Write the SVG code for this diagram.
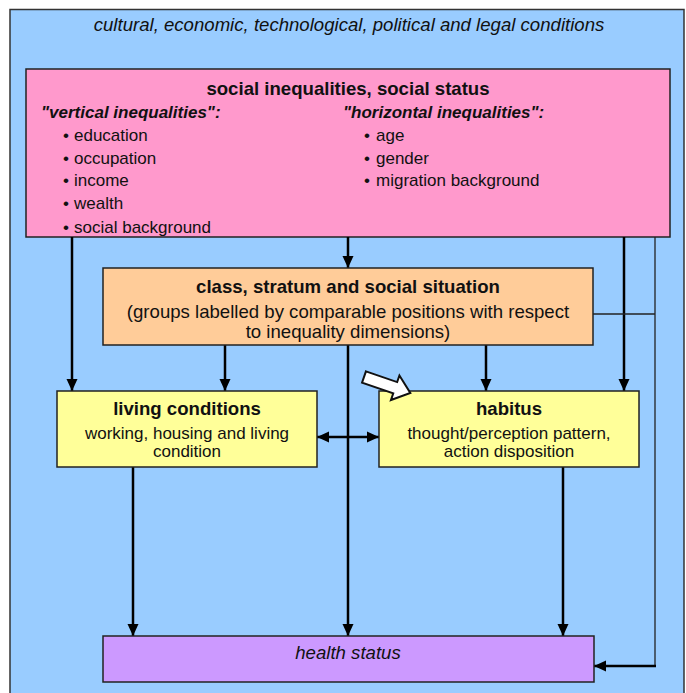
<svg xmlns="http://www.w3.org/2000/svg" width="686" height="693" viewBox="0 0 686 693">
<defs>
<style>
text{font-family:"Liberation Sans",Arial,sans-serif;fill:#111}
.t{font-size:18.6px;font-weight:bold;text-anchor:middle}
.s{font-size:17px;text-anchor:middle}
.sl{font-size:18.6px;text-anchor:middle}
.b{font-size:17px}
.h{font-size:17px;font-weight:bold;font-style:italic}
.box{stroke:#222;stroke-width:1.5}
.c{fill:none;stroke:#000;stroke-width:2.5}
.thin{fill:none;stroke:#222;stroke-width:1.3}
</style>
<marker id="ah" markerUnits="userSpaceOnUse" markerWidth="13" markerHeight="13" refX="12" refY="6.5" orient="auto">
<path d="M0,1 L12,6.5 L0,12 z" fill="#000"/>
</marker>
<marker id="as" markerUnits="userSpaceOnUse" markerWidth="13" markerHeight="13" refX="0" refY="6.5" orient="auto">
<path d="M12,1 L0,6.5 L12,12 z" fill="#000"/>
</marker>
</defs>
<g id="context">
<rect x="10" y="9.5" width="674" height="700" fill="#99CCFF" stroke="#333" stroke-width="1.5"/>
<text x="349" y="31" class="sl" font-style="italic">cultural, economic, technological, political and legal conditions</text>
</g>
<g id="inequalities">
<rect class="box" x="26" y="69" width="644" height="168" fill="#FF99CC"/>
<text x="348" y="95" class="t">social inequalities, social status</text>
<text x="41" y="118" class="h">"vertical inequalities":</text>
<text class="b"><tspan x="63" y="141">•</tspan><tspan x="74">education</tspan></text>
<text class="b"><tspan x="63" y="164">•</tspan><tspan x="74">occupation</tspan></text>
<text class="b"><tspan x="63" y="186">•</tspan><tspan x="74">income</tspan></text>
<text class="b"><tspan x="63" y="209">•</tspan><tspan x="74">wealth</tspan></text>
<text class="b"><tspan x="63" y="233">•</tspan><tspan x="74">social background</tspan></text>
<text x="343" y="118" class="h">"horizontal inequalities":</text>
<text class="b"><tspan x="364" y="141">•</tspan><tspan x="376">age</tspan></text>
<text class="b"><tspan x="364" y="164">•</tspan><tspan x="376">gender</tspan></text>
<text class="b"><tspan x="364" y="186">•</tspan><tspan x="376">migration background</tspan></text>
</g>
<g id="connectors">
<line class="c" x1="72" y1="237" x2="72" y2="391" marker-end="url(#ah)"/>
<line class="c" x1="348" y1="237" x2="348" y2="268" marker-end="url(#ah)"/>
<line class="c" x1="624" y1="237" x2="624" y2="391" marker-end="url(#ah)"/>
<polyline class="thin" points="655,237 655,666"/>
<line class="thin" x1="593" y1="314" x2="655" y2="314"/>
<line class="c" x1="656" y1="666" x2="594" y2="666" marker-end="url(#ah)"/>
<line class="c" x1="225" y1="345" x2="225" y2="391" marker-end="url(#ah)"/>
<line class="c" x1="486" y1="345" x2="486" y2="391" marker-end="url(#ah)"/>
<line class="c" x1="348" y1="345" x2="348" y2="636" marker-end="url(#ah)"/>
<line class="c" x1="317" y1="437" x2="379" y2="437" marker-start="url(#as)" marker-end="url(#ah)"/>
<line class="c" x1="133" y1="467" x2="133" y2="636" marker-end="url(#ah)"/>
<line class="c" x1="563" y1="467" x2="563" y2="636" marker-end="url(#ah)"/>
</g>
<g id="class">
<rect class="box" x="103" y="268" width="490" height="77" fill="#FFCC99"/>
<text x="348" y="293" class="t">class, stratum and social situation</text>
<text x="348" y="318" class="sl">(groups labelled by comparable positions with respect</text>
<text x="348" y="338" class="sl">to inequality dimensions)</text>
</g>
<g id="living">
<rect class="box" x="57" y="391" width="260" height="76" fill="#FFFF99"/>
<text x="187" y="415" class="t">living conditions</text>
<text x="187" y="439" class="s">working, housing and living</text>
<text x="187" y="457" class="s">condition</text>
</g>
<g id="habitus">
<rect class="box" x="379" y="391" width="260" height="76" fill="#FFFF99"/>
<text x="509" y="415" class="t">habitus</text>
<text x="509" y="439" class="s">thought/perception pattern,</text>
<text x="509" y="457" class="s">action disposition</text>
</g>
<g id="pointer">
<path transform="translate(364,377) rotate(19)" d="M0,-6 L33,-6 L33,-13 L49,0 L33,13 L33,6 L0,6 z" fill="#fff" stroke="#111" stroke-width="2" stroke-linejoin="miter"/>
</g>
<g id="health">
<rect class="box" x="103" y="636" width="491" height="46" fill="#CC99FF"/>
<text x="348" y="659" class="sl" font-style="italic">health status</text>
</g>
</svg>
